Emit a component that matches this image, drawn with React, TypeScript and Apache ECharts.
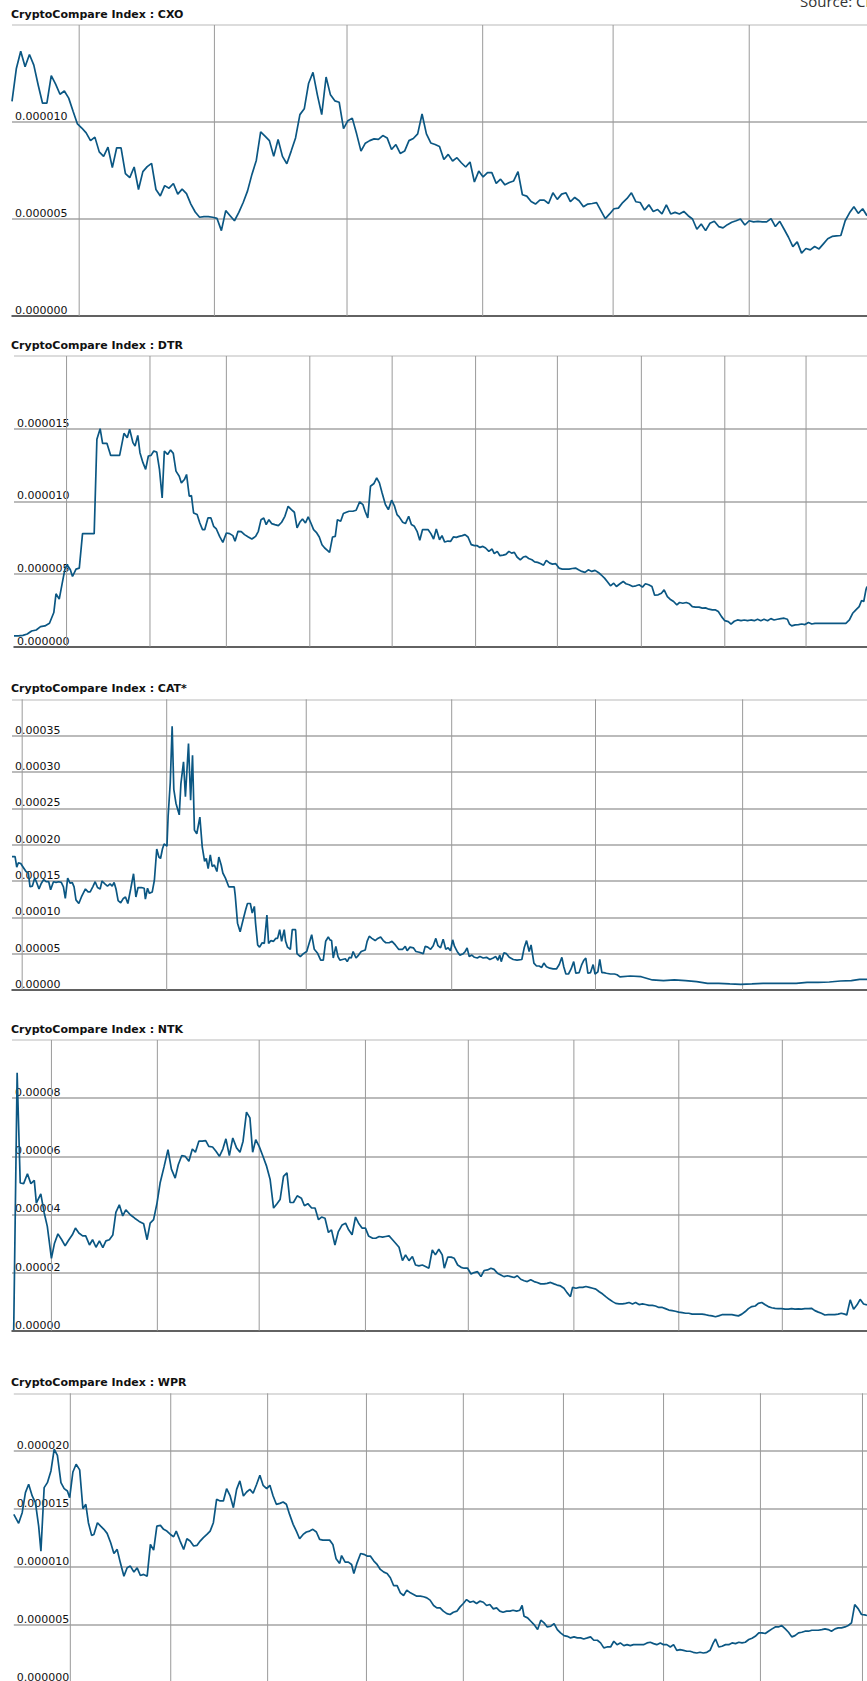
import React, { useEffect, useRef } from 'react';
import * as echarts from 'echarts';

// ---------- DATA ----------
// CXO: one value per day, in units of 1e-6
const cxoValues = [
  11.06, 12.76, 13.65, 12.85, 13.48, 12.93, 11.91, 10.97, 10.97, 12.39,
  11.95, 11.43, 11.6, 11.23, 10.55, 9.9, 9.69, 9.44, 9.04, 9.22,
  8.46, 8.23, 8.7, 7.65, 8.67, 8.67, 7.34, 7.13, 7.68, 6.52,
  7.44, 7.7, 7.87, 6.52, 6.19, 6.72, 6.59, 6.83, 6.28, 6.54,
  6.31, 5.77, 5.36, 5.09, 5.12, 5.12, 5.09, 5.03, 4.4, 5.43,
  5.17, 4.91, 5.34, 5.85, 6.45, 7.3, 8.02, 9.49, 9.27, 9.04,
  8.23, 9.1, 8.23, 7.85, 8.5, 9.18, 10.38, 10.68, 12.0, 12.56,
  11.4, 10.38, 12.32, 11.4, 11.09, 11.02, 9.66, 10.07, 10.2, 9.39,
  8.5, 8.91, 9.04, 9.13, 9.1, 9.3, 9.18, 8.58, 8.84, 8.38,
  8.5, 9.04, 9.15, 9.39, 10.41, 9.39, 8.92, 8.84, 8.74, 8.07,
  8.33, 7.99, 8.16, 7.9, 7.68, 7.94, 6.91, 7.47, 7.17, 7.39,
  7.39, 6.84, 7.05, 6.76, 6.88, 6.96, 7.44, 6.25, 6.18, 5.9,
  5.77, 5.97, 5.97, 5.8, 6.35, 6.01, 6.28, 6.35, 5.89, 6.11,
  5.94, 5.63, 5.77, 5.8, 5.84, 5.43, 5.02, 5.26, 5.53, 5.56,
  5.85, 6.06, 6.35, 5.89, 5.85, 5.46, 5.73, 5.39, 5.49, 5.26,
  5.73, 5.26, 5.34, 5.26, 5.39, 5.17, 5.0, 4.47, 4.74, 4.4,
  4.78, 4.88, 4.61, 4.54, 4.71, 4.83, 4.91, 5.0, 4.69, 4.91,
  4.85, 4.88, 4.85, 4.85, 5.02, 4.61, 4.88, 4.47, 4.06, 3.58,
  3.82, 3.24, 3.48, 3.41, 3.58, 3.46, 3.72, 3.98, 4.1, 4.13,
  4.15, 4.91, 5.32, 5.63, 5.29, 5.53, 5.17,
];
const cxoMonthDays = [15.4, 46.4, 76.8, 107.9, 137.8, 169.0];

// DTR: [day, value in 1e-6]
const dtrPoints = [
  [0, 0.74], [1.6, 0.74], [3.3, 0.78], [4.9, 0.87], [6.5, 1.08], [8.2, 1.15], [9.8, 1.38], [11.4, 1.43], [13.1, 1.61], [14.7, 2.35],
  [15.5, 3.64], [16.7, 3.27], [18.0, 4.56], [18.8, 5.34], [19.6, 5.64], [20.8, 5.29], [21.6, 4.83], [22.9, 5.34], [24.1, 5.41], [25.3, 7.78],
  [29.6, 7.78], [30.6, 14.27], [31.8, 15.0], [32.7, 13.99], [34.3, 13.99], [35.7, 13.16], [39.0, 13.16], [40.6, 14.68], [41.8, 14.38], [42.7, 14.96],
  [43.9, 14.04], [44.7, 13.81], [45.7, 14.54], [46.5, 13.35], [47.6, 12.66], [48.6, 12.2], [49.6, 13.12], [50.6, 13.16], [51.6, 13.46], [52.7, 13.39],
  [53.7, 12.2], [54.7, 10.24], [55.5, 13.46], [56.7, 13.23], [57.8, 13.53], [58.8, 13.3], [59.8, 12.08], [61.0, 11.73], [61.8, 11.27], [62.9, 11.5],
  [63.7, 11.85], [64.7, 10.35], [65.5, 10.4], [66.3, 9.2], [67.6, 9.09], [68.6, 8.51], [69.6, 8.05], [70.4, 8.05], [71.6, 8.86], [72.7, 8.86],
  [73.7, 8.28], [74.7, 8.1], [75.9, 7.59], [77.1, 7.18], [78.4, 7.82], [79.6, 7.78], [80.8, 7.64], [81.6, 7.25], [82.7, 7.94], [83.9, 7.92],
  [85.1, 7.71], [86.5, 7.55], [87.8, 7.41], [89.2, 7.59], [90.2, 7.94], [91.2, 8.74], [92.2, 8.86], [93.1, 8.4], [94.1, 8.74], [95.1, 8.47],
  [96.3, 8.4], [97.6, 8.33], [98.8, 8.56], [100.0, 8.97], [101.2, 9.66], [102.4, 9.43], [103.5, 9.25], [104.5, 8.17], [105.5, 8.56], [106.5, 8.79],
  [107.6, 8.51], [108.6, 8.93], [109.6, 8.51], [110.6, 8.05], [111.6, 7.87], [112.7, 7.55], [113.7, 7.02], [114.7, 6.79], [115.7, 6.63], [116.5, 6.49],
  [117.6, 7.55], [118.6, 7.59], [119.4, 8.74], [120.6, 8.63], [121.6, 9.16], [122.7, 9.25], [123.7, 9.32], [125.1, 9.32], [126.3, 9.39], [127.6, 9.96],
  [128.8, 9.78], [129.6, 9.32], [130.6, 8.86], [131.6, 11.04], [132.9, 11.23], [133.9, 11.62], [134.9, 11.27], [135.9, 10.58], [137.1, 9.78], [138.2, 9.43],
  [139.4, 10.08], [140.4, 9.71], [141.4, 9.09], [142.2, 8.93], [143.5, 8.56], [144.5, 8.47], [145.7, 8.97], [146.7, 8.4], [147.8, 8.28], [148.8, 7.94],
  [149.8, 7.32], [150.8, 8.05], [152.9, 8.05], [153.9, 7.78], [154.9, 7.41], [155.9, 8.1], [157.1, 7.36], [158.0, 7.64], [159.0, 7.2], [160.2, 7.27],
  [161.2, 7.25], [162.2, 7.55], [163.3, 7.52], [164.3, 7.59], [165.5, 7.64], [166.5, 7.71], [167.6, 7.55], [168.8, 7.02], [170.0, 6.95], [171.0, 6.95],
  [172.0, 6.83], [173.1, 6.9], [174.1, 6.79], [175.3, 6.56], [176.5, 6.72], [177.3, 6.4], [178.4, 6.56], [179.4, 6.26], [180.6, 6.3], [181.6, 6.35],
  [182.7, 6.56], [183.7, 6.44], [184.7, 6.49], [185.7, 6.17], [186.9, 5.98], [188.0, 6.17], [189.0, 6.21], [190.0, 6.07], [191.2, 5.98], [192.2, 5.84],
  [193.3, 5.8], [194.5, 5.71], [195.5, 5.61], [196.5, 5.94], [197.8, 5.75], [198.8, 5.68], [200.0, 5.71], [201.2, 5.41], [202.4, 5.34], [204.9, 5.34],
  [206.1, 5.38], [207.3, 5.41], [208.4, 5.29], [209.6, 5.18], [210.8, 5.11], [212.0, 5.29], [213.3, 5.18], [214.5, 5.25], [215.7, 5.11], [216.7, 4.95],
  [218.0, 4.72], [219.0, 4.49], [220.2, 4.19], [221.4, 4.37], [222.4, 4.14], [223.7, 4.33], [224.9, 4.49], [225.9, 4.33], [227.1, 4.26], [228.4, 4.14],
  [229.6, 4.19], [230.8, 4.26], [232.0, 4.1], [233.1, 4.33], [234.3, 4.26], [235.5, 4.14], [236.5, 3.54], [237.8, 3.57], [239.0, 3.68], [240.0, 3.91],
  [241.2, 3.45], [242.2, 3.27], [243.5, 3.11], [244.7, 2.88], [245.7, 3.04], [246.9, 2.99], [248.2, 3.04], [249.4, 2.95], [250.4, 2.76], [251.6, 2.72],
  [252.9, 2.72], [254.1, 2.65], [255.3, 2.67], [256.5, 2.58], [257.8, 2.53], [259.0, 2.53], [260.0, 2.42], [261.2, 2.07], [262.4, 1.79], [263.7, 1.73],
  [264.7, 1.56], [265.9, 1.75], [267.1, 1.84], [268.4, 1.79], [269.6, 1.84], [270.8, 1.79], [272.0, 1.84], [273.3, 1.79], [274.5, 1.89], [275.7, 1.79],
  [276.9, 1.89], [278.2, 1.79], [279.4, 1.93], [280.6, 1.84], [281.8, 1.89], [283.1, 1.93], [284.3, 1.96], [285.5, 1.89], [286.3, 1.56], [287.1, 1.43],
  [288.4, 1.5], [289.6, 1.52], [290.8, 1.56], [292.0, 1.52], [293.3, 1.66], [294.5, 1.56], [295.7, 1.61], [307.1, 1.61], [308.4, 1.84], [309.6, 2.3],
  [310.8, 2.53], [312.0, 2.76], [312.9, 3.18], [313.7, 3.11], [314.5, 3.91], [314.9, 4.14],
];
const dtrMonthDays = [19.4, 50.2, 78.4, 109.2, 139.6, 170.4, 200.6, 231.6, 262.4, 292.4];

// CAT: [day, value in 1e-5]
const catPoints = [
  [0, 18.35], [1.3, 18.35], [2.0, 16.9], [2.7, 17.5], [3.7, 17.4], [4.5, 17.0], [5.9, 16.3], [6.9, 16.1], [7.6, 14.2], [8.6, 14.3],
  [9.6, 15.4], [10.4, 14.8], [11.4, 13.9], [12.4, 14.7], [13.4, 15.2], [14.4, 14.9], [15.5, 14.9], [16.3, 13.8], [17.5, 14.9], [18.6, 14.8],
  [19.7, 14.9], [20.8, 14.8], [21.7, 14.2], [22.5, 12.6], [23.5, 15.4], [24.5, 14.7], [25.4, 14.8], [26.2, 14.2], [27.0, 12.4], [28.2, 11.9],
  [29.3, 12.8], [31.0, 13.9], [32.1, 13.5], [33.0, 13.5], [34.1, 14.2], [35.1, 14.9], [36.1, 14.1], [37.2, 13.9], [38.0, 15.0], [39.2, 14.6],
  [40.3, 14.3], [41.4, 14.6], [42.3, 14.3], [43.1, 14.8], [43.9, 13.9], [44.8, 12.3], [45.9, 12.0], [47.0, 12.6], [47.9, 12.8], [48.9, 11.9],
  [50.1, 13.9], [51.3, 16.0], [52.3, 12.8], [53.2, 14.1], [54.6, 14.1], [55.8, 14.0], [56.3, 12.5], [57.2, 14.0], [58.0, 13.3], [59.2, 13.5],
  [60.1, 15.1], [61.1, 19.4], [62.0, 18.3], [62.7, 18.1], [63.5, 19.4], [64.2, 20.1], [65.4, 19.8], [65.9, 23.9], [66.8, 28.5], [67.6, 36.3],
  [68.3, 27.6], [69.2, 25.7], [70.6, 24.1], [71.3, 28.4], [72.4, 31.4], [73.2, 26.6], [74.5, 33.9], [75.4, 26.1], [76.2, 32.3], [77.0, 22.0],
  [78.0, 21.5], [79.3, 23.8], [80.3, 19.7], [81.3, 17.7], [82.0, 18.1], [82.8, 16.7], [83.7, 18.6], [84.5, 17.0], [85.4, 17.2], [86.5, 16.3],
  [87.3, 18.3], [88.3, 17.2], [89.0, 16.1], [90.1, 15.4], [91.5, 14.2], [92.7, 14.2], [93.8, 14.2], [94.2, 13.1], [95.2, 9.2], [96.3, 8.0],
  [97.5, 9.6], [98.6, 11.0], [99.4, 11.9], [100.6, 11.9], [101.4, 10.6], [102.3, 11.5], [102.8, 9.2], [103.7, 6.2], [104.5, 5.9], [105.6, 6.5],
  [106.5, 6.4], [107.6, 10.3], [108.3, 6.4], [109.3, 6.8], [110.4, 6.7], [111.3, 7.1], [112.1, 7.1], [113.0, 8.3], [113.8, 6.7], [114.9, 8.3],
  [115.5, 6.7], [116.3, 5.9], [117.5, 5.6], [118.3, 8.3], [119.7, 8.3], [120.3, 5.0], [121.7, 4.6], [123.0, 5.0], [124.4, 5.3], [126.5, 7.6],
  [127.6, 5.6], [128.9, 5.1], [130.3, 4.1], [131.4, 4.1], [132.4, 6.7], [133.5, 7.3], [134.2, 6.9], [134.9, 6.8], [135.6, 4.4], [136.7, 6.0],
  [137.6, 4.6], [138.4, 4.1], [139.5, 4.2], [140.7, 4.3], [141.5, 3.9], [142.4, 4.5], [143.2, 4.4], [144.0, 5.3], [145.2, 4.4], [146.3, 4.8],
  [147.4, 5.3], [149.1, 5.5], [149.9, 6.7], [150.8, 7.4], [151.9, 7.1], [153.3, 6.8], [154.4, 7.1], [155.6, 7.3], [156.7, 6.8], [157.8, 6.5],
  [159.2, 6.5], [160.4, 6.7], [161.8, 6.2], [163.2, 5.6], [164.9, 5.6], [166.0, 6.0], [166.8, 5.4], [168.0, 5.9], [169.4, 5.8], [170.5, 5.3],
  [171.9, 5.2], [173.6, 5.0], [174.4, 6.0], [175.5, 5.9], [176.7, 5.6], [177.8, 6.1], [178.9, 7.1], [179.8, 6.1], [180.9, 5.8], [182.0, 7.0],
  [183.1, 5.6], [184.1, 5.8], [185.1, 5.4], [186.0, 6.9], [186.8, 6.0], [187.9, 5.3], [189.0, 4.8], [190.5, 5.0], [191.3, 5.3], [192.1, 5.8],
  [193.0, 4.6], [194.1, 4.8], [195.2, 4.5], [196.4, 4.4], [197.5, 4.6], [198.9, 4.4], [200.3, 4.5], [201.7, 4.2], [203.1, 4.4], [204.2, 4.6],
  [205.1, 4.1], [205.9, 4.8], [206.5, 3.9], [207.6, 5.1], [208.7, 5.0], [209.9, 4.5], [211.6, 4.2], [213.2, 4.1], [215.2, 4.2], [216.2, 5.8],
  [217.2, 6.8], [218.3, 5.3], [219.1, 6.2], [220.3, 3.7], [221.4, 3.3], [222.5, 3.3], [223.6, 3.1], [224.5, 3.7], [225.6, 3.2], [227.0, 3.0],
  [228.4, 2.9], [229.8, 2.9], [231.0, 3.5], [232.1, 4.5], [232.9, 3.2], [233.8, 2.2], [234.9, 2.2], [236.0, 2.9], [237.1, 3.9], [238.0, 2.3],
  [239.4, 2.4], [240.5, 3.5], [241.4, 4.1], [242.2, 4.4], [243.1, 2.3], [244.2, 2.4], [245.3, 3.5], [246.1, 2.2], [247.3, 2.5], [248.1, 4.2],
  [249.0, 2.4], [249.8, 2.4], [250.9, 2.3], [252.6, 2.2], [254.3, 2.2], [255.4, 2.1], [256.6, 1.8], [261.0, 1.93], [265.6, 1.83], [270.3, 1.38],
  [275.0, 1.28], [279.6, 1.38], [284.3, 1.28], [289.0, 1.15], [293.6, 0.92], [298.3, 0.92], [303.0, 0.83], [307.6, 0.78], [312.3, 0.83], [317.0, 0.92],
  [321.7, 0.92], [326.3, 0.92], [331.0, 0.92], [335.6, 1.06], [340.3, 1.06], [345.0, 1.1], [349.7, 1.24], [354.3, 1.28], [357.8, 1.47], [360.9, 1.47],
];
const catMonthDays = [4.3, 65.3, 124.2, 185.6, 246.3, 308.4];

// NTK: [day, value in 1e-5]
const ntkPoints = [
  [0.5, 0.02], [1.5, 8.87], [2.4, 5.08], [3.4, 5.06], [4.5, 5.4], [5.5, 5.06], [6.5, 5.17], [7.1, 4.39], [8.4, 4.71], [9.4, 4.05],
  [10.3, 3.59], [11.5, 2.49], [12.4, 3.01], [13.4, 3.33], [14.5, 3.13], [15.5, 2.92], [16.6, 3.13], [17.6, 3.3], [18.5, 3.53], [19.5, 3.36],
  [20.6, 3.26], [21.5, 3.26], [22.6, 2.95], [23.5, 3.13], [24.5, 2.87], [25.5, 3.09], [26.5, 2.86], [27.4, 3.09], [28.4, 3.13], [29.4, 3.29],
  [30.3, 4.07], [31.3, 4.33], [32.3, 3.95], [33.2, 4.16], [34.5, 3.99], [35.8, 3.87], [37.1, 3.76], [38.4, 3.68], [39.4, 3.13], [40.3, 3.7],
  [41.3, 3.82], [42.3, 4.39], [43.2, 5.08], [44.4, 5.66], [45.5, 6.23], [46.5, 5.56], [47.6, 5.25], [48.5, 5.71], [49.5, 6.02], [50.5, 6.0],
  [51.6, 5.83], [52.6, 6.25], [53.5, 6.14], [54.5, 6.52], [55.5, 6.52], [56.5, 6.54], [57.4, 6.34], [58.5, 6.32], [59.5, 6.17], [60.5, 6.0],
  [61.5, 6.25], [62.4, 6.6], [63.4, 6.02], [64.4, 6.63], [65.5, 6.29], [66.5, 6.14], [67.4, 6.52], [68.4, 7.52], [69.4, 7.32], [70.2, 6.14],
  [71.1, 6.57], [72.1, 6.34], [73.2, 6.0], [74.2, 5.68], [75.3, 5.2], [76.3, 4.22], [77.3, 4.37], [78.2, 4.51], [79.2, 5.31], [80.2, 5.43],
  [81.1, 4.41], [82.1, 4.41], [83.2, 4.64], [84.4, 4.56], [85.3, 4.3], [86.3, 4.37], [87.4, 4.22], [88.4, 4.22], [89.4, 3.82], [90.3, 3.91],
  [91.3, 3.87], [92.3, 3.38], [93.2, 3.47], [94.2, 2.95], [95.2, 3.41], [96.3, 3.64], [97.3, 3.7], [98.2, 3.47], [99.2, 3.3], [100.2, 3.91],
  [101.1, 3.7], [102.1, 3.53], [103.1, 3.53], [104.0, 3.26], [105.2, 3.18], [106.1, 3.18], [107.1, 3.24], [108.1, 3.22], [109.0, 3.24], [110.0, 3.26],
  [111.0, 3.13], [111.9, 3.01], [112.9, 2.87], [113.9, 2.41], [114.8, 2.61], [115.8, 2.41], [116.8, 2.55], [117.7, 2.26], [118.7, 2.23], [119.7, 2.26],
  [120.6, 2.21], [121.6, 2.15], [122.6, 2.78], [123.5, 2.61], [124.5, 2.8], [125.5, 2.61], [126.1, 2.15], [127.1, 2.53], [128.1, 2.53], [129.0, 2.49],
  [130.0, 2.26], [131.0, 2.18], [131.9, 2.15], [132.9, 2.15], [133.9, 1.95], [134.8, 2.0], [135.8, 2.03], [136.8, 1.86], [137.7, 2.07], [138.7, 2.09],
  [139.7, 2.15], [140.6, 2.11], [141.6, 1.98], [142.6, 1.92], [143.5, 1.86], [144.5, 1.89], [145.5, 1.86], [146.5, 1.83], [147.4, 1.89], [148.4, 1.77],
  [149.4, 1.72], [150.3, 1.69], [151.3, 1.75], [152.3, 1.69], [153.2, 1.66], [154.2, 1.61], [155.2, 1.61], [156.1, 1.63], [157.1, 1.66], [158.1, 1.61],
  [159.0, 1.57], [160.0, 1.54], [161.0, 1.46], [161.9, 1.31], [162.9, 1.17], [163.5, 1.49], [164.5, 1.46], [165.5, 1.49], [166.5, 1.49], [167.4, 1.52],
  [168.4, 1.49], [169.4, 1.46], [170.3, 1.43], [171.3, 1.34], [172.3, 1.26], [173.2, 1.17], [174.2, 1.08], [175.2, 1.0], [176.1, 0.94], [177.1, 0.92],
  [178.1, 0.92], [179.0, 0.94], [180.0, 0.97], [181.0, 0.92], [181.9, 0.97], [182.9, 0.9], [183.9, 0.92], [184.8, 0.9], [185.8, 0.87], [186.8, 0.87],
  [187.7, 0.85], [188.7, 0.8], [189.7, 0.8], [190.6, 0.76], [191.6, 0.71], [192.6, 0.69], [193.5, 0.67], [194.5, 0.64], [195.5, 0.62], [196.5, 0.6],
  [197.4, 0.6], [198.4, 0.57], [199.4, 0.57], [200.3, 0.57], [201.3, 0.57], [202.3, 0.55], [203.2, 0.53], [204.2, 0.51], [205.2, 0.48], [206.1, 0.51],
  [207.1, 0.55], [208.1, 0.55], [209.0, 0.55], [210.0, 0.55], [211.0, 0.53], [211.9, 0.51], [212.9, 0.57], [213.9, 0.66], [214.8, 0.76], [215.8, 0.83],
  [216.8, 0.85], [217.7, 0.94], [218.7, 0.97], [219.7, 0.89], [220.6, 0.83], [221.6, 0.79], [222.6, 0.77], [223.5, 0.76], [224.5, 0.76], [225.5, 0.74],
  [226.5, 0.74], [227.4, 0.76], [228.4, 0.74], [229.4, 0.75], [230.3, 0.74], [231.3, 0.76], [232.3, 0.76], [233.2, 0.77], [234.2, 0.69], [235.2, 0.64],
  [236.1, 0.6], [237.1, 0.54], [238.1, 0.55], [239.0, 0.55], [240.0, 0.55], [241.0, 0.57], [241.9, 0.6], [242.9, 0.57], [243.5, 0.54], [244.5, 1.06],
  [245.5, 0.74], [246.5, 0.89], [247.4, 1.08], [248.4, 0.92], [249.4, 0.89],
];
const ntkMonthDays = [11.5, 42.4, 72.1, 103.1, 133.1, 163.9, 194.5, 224.7];

// WPR: [day, value in 1e-6]
const wprPoints = [
  [0, 14.55], [1.5, 13.78], [2.6, 14.7], [3.6, 16.43], [4.6, 17.15], [5.7, 16.14], [6.7, 15.56], [7.7, 13.54], [8.4, 11.38], [9.4, 16.86],
  [10.4, 17.29], [11.5, 18.3], [12.5, 20.17], [13.5, 19.65], [14.6, 17.29], [15.6, 16.77], [16.6, 16.57], [17.3, 15.99], [18.3, 18.21], [19.3, 18.88],
  [20.4, 18.39], [21.4, 15.04], [22.3, 15.42], [23.1, 13.83], [24.1, 12.74], [24.8, 12.82], [25.9, 13.83], [26.9, 13.54], [27.9, 13.26], [28.9, 12.91],
  [30.0, 12.1], [31.0, 11.18], [32.0, 11.53], [33.0, 10.37], [34.1, 9.22], [35.1, 9.94], [36.1, 10.09], [37.2, 9.57], [38.2, 9.94], [39.2, 9.28],
  [40.2, 9.37], [41.3, 9.22], [42.3, 11.96], [43.3, 11.47], [44.3, 13.54], [45.4, 13.6], [46.4, 13.26], [47.4, 13.11], [48.5, 12.82], [49.5, 12.62],
  [50.3, 13.11], [51.5, 12.25], [52.6, 11.53], [53.6, 12.45], [54.6, 12.25], [55.7, 11.82], [56.7, 11.87], [57.7, 12.25], [58.7, 12.54], [59.8, 12.82],
  [60.8, 13.11], [61.8, 13.83], [62.8, 15.85], [63.9, 15.71], [64.9, 15.71], [65.9, 16.77], [67.0, 16.14], [68.0, 15.13], [69.0, 16.71], [70.0, 17.44],
  [71.1, 16.14], [72.1, 16.48], [73.1, 16.71], [74.1, 16.37], [75.2, 17.15], [76.2, 17.93], [77.2, 17.06], [78.3, 16.77], [79.3, 17.06], [80.3, 16.14],
  [81.3, 15.42], [82.4, 15.5], [83.4, 15.62], [84.4, 15.42], [85.4, 14.55], [86.5, 13.69], [87.5, 13.11], [88.5, 12.45], [89.6, 12.82], [90.6, 13.03],
  [91.6, 13.11], [92.6, 13.26], [93.7, 13.03], [94.7, 12.39], [95.7, 12.33], [96.7, 12.33], [97.8, 12.33], [98.8, 11.96], [99.8, 10.72], [100.9, 10.32],
  [101.5, 11.0], [102.6, 10.43], [103.6, 10.43], [104.6, 10.23], [105.3, 9.45], [106.3, 10.37], [107.4, 11.18], [108.4, 11.1], [109.4, 10.95], [110.4, 10.95],
  [111.5, 10.52], [112.5, 10.23], [113.5, 9.8], [114.6, 9.57], [115.6, 9.45], [116.6, 9.08], [117.6, 8.41], [118.7, 8.41], [119.7, 7.78], [120.7, 7.55],
  [121.7, 8.01], [122.8, 7.78], [123.8, 7.64], [124.8, 7.49], [125.9, 7.49], [126.9, 7.44], [127.9, 7.35], [128.9, 7.15], [130.0, 6.69], [131.0, 6.48],
  [132.0, 6.48], [133.0, 6.2], [134.1, 5.99], [135.1, 5.91], [136.1, 6.11], [137.2, 6.2], [138.2, 6.57], [139.2, 6.86], [140.2, 7.2], [141.3, 6.97],
  [142.3, 7.06], [143.3, 6.86], [144.3, 7.06], [145.4, 6.97], [146.4, 6.69], [147.4, 6.77], [148.5, 6.4], [149.5, 6.48], [150.5, 6.2], [151.5, 6.11],
  [152.6, 6.2], [153.6, 6.2], [154.6, 6.28], [155.7, 6.2], [156.7, 6.28], [157.4, 6.69], [158.0, 5.76], [159.1, 5.62], [160.1, 5.33], [161.1, 5.04],
  [162.2, 4.61], [163.2, 5.42], [164.2, 5.19], [165.2, 4.84], [166.3, 4.9], [167.3, 5.13], [168.3, 4.61], [169.3, 4.32], [170.4, 4.09], [171.4, 4.03],
  [172.4, 3.89], [173.5, 3.98], [174.5, 3.89], [175.5, 3.89], [176.5, 3.8], [177.6, 3.89], [178.6, 3.98], [179.6, 3.69], [180.7, 3.69], [181.7, 3.46],
  [182.7, 3.03], [183.7, 3.11], [184.8, 3.11], [185.8, 3.6], [186.8, 3.31], [187.8, 3.46], [188.9, 3.23], [189.9, 3.31], [190.9, 3.23], [191.9, 3.31],
  [193.0, 3.31], [194.0, 3.31], [195.0, 3.31], [196.1, 3.46], [197.1, 3.52], [198.1, 3.4], [199.1, 3.31], [200.2, 3.46], [201.2, 3.31], [202.2, 3.31],
  [203.3, 3.11], [204.3, 3.31], [205.3, 2.82], [206.3, 2.88], [207.4, 2.82], [208.4, 2.74], [209.4, 2.74], [210.4, 2.65], [211.5, 2.59], [212.5, 2.65],
  [213.5, 2.59], [214.6, 2.65], [215.6, 2.82], [216.6, 3.46], [217.3, 3.8], [218.3, 3.11], [219.3, 3.17], [220.4, 3.31], [221.4, 3.31], [222.4, 3.46],
  [223.5, 3.4], [224.5, 3.52], [225.5, 3.46], [226.5, 3.52], [227.6, 3.75], [228.6, 3.86], [229.6, 4.03], [230.7, 4.32], [231.7, 4.32], [232.7, 4.27],
  [233.7, 4.47], [234.8, 4.67], [235.8, 4.84], [236.8, 4.84], [237.8, 4.96], [238.9, 4.67], [239.9, 4.38], [240.9, 3.98], [241.9, 4.09], [243.0, 4.32],
  [244.0, 4.38], [245.0, 4.47], [246.1, 4.47], [247.1, 4.55], [248.1, 4.55], [249.1, 4.55], [250.2, 4.61], [251.2, 4.67], [252.2, 4.61], [253.2, 4.47],
  [254.3, 4.67], [255.3, 4.76], [256.3, 4.76], [257.4, 4.84], [258.4, 4.96], [259.4, 5.19], [260.4, 6.77], [261.5, 6.4], [262.5, 5.91], [263.5, 5.88],
  [264.2, 5.82],
];
const wprMonthDays = [17.5, 48.6, 78.6, 109.2, 139.2, 170.2, 201.2, 231.2, 262.8];

const titles = [
  'CryptoCompare Index : CXO',
  'CryptoCompare Index : DTR',
  'CryptoCompare Index : CAT*',
  'CryptoCompare Index : NTK',
  'CryptoCompare Index : WPR',
];
const sourceText = 'Source: CryptoCompare';

// ---------- LAYOUT / STYLE ----------
const LINE_COLOR = '#0b5783';
const FONT = '"DejaVu Sans", Verdana, sans-serif';

type Panel = {
  title: string;
  titleY: number;
  left: number;
  top: number;
  height: number;
  yMax: number;
  yStep: number;
  decimals: number;
  xMax: number;
  data: number[][];
  months: number[];
};

const panels: Panel[] = [
  {
    title: titles[0], titleY: 14, left: 12, top: 25, height: 291,
    yMax: 15e-6, yStep: 5e-6, decimals: 6, xMax: cxoValues.length - 1,
    data: cxoValues.map((v, i) => [i, v * 1e-6]), months: cxoMonthDays,
  },
  {
    title: titles[1], titleY: 345, left: 14, top: 356, height: 290.7,
    yMax: 20e-6, yStep: 5e-6, decimals: 6, xMax: 314.9,
    data: dtrPoints.map(([d, v]) => [d, v * 1e-6]), months: dtrMonthDays,
  },
  {
    title: titles[2], titleY: 688, left: 12, top: 699.3, height: 290.7,
    yMax: 0.0004, yStep: 0.00005, decimals: 5, xMax: 360.9,
    data: catPoints.map(([d, v]) => [d, v * 1e-5]), months: catMonthDays,
  },
  {
    title: titles[3], titleY: 1029.3, left: 12, top: 1040, height: 290.7,
    yMax: 0.0001, yStep: 0.00002, decimals: 5, xMax: 249.4,
    data: ntkPoints.map(([d, v]) => [d, v * 1e-5]), months: ntkMonthDays,
  },
  {
    title: titles[4], titleY: 1382, left: 13.8, top: 1393.3, height: 289.7,
    yMax: 25e-6, yStep: 5e-6, decimals: 6, xMax: 264.2,
    data: wprPoints.map(([d, v]) => [d, v * 1e-6]), months: wprMonthDays,
  },
];

const WIDTH = 867;
const HEIGHT = 1681;

function buildOption() {
  const grid: any[] = [];
  const xAxis: any[] = [];
  const yAxis: any[] = [];
  const series: any[] = [];
  const graphic: any[] = [];

  panels.forEach((p, i) => {
    grid.push({
      left: p.left,
      top: p.top,
      width: WIDTH - p.left,
      height: p.height,
      containLabel: false,
      outerBoundsMode: 'none',
    });
    xAxis.push({
      gridIndex: i,
      type: 'value',
      min: 0,
      max: p.xMax,
      axisLine: { show: true, onZero: false, lineStyle: { color: '#444', width: 1.6 } },
      axisTick: { show: false },
      axisLabel: { show: false },
      splitLine: { show: false },
    });
    const tickCount = Math.round(p.yMax / p.yStep) + 1;
    const splitColors: string[] = [];
    for (let k = 0; k < tickCount; k++) splitColors.push(k === tickCount - 1 ? '#d0d0d0' : '#a5a5a5');
    yAxis.push({
      gridIndex: i,
      type: 'value',
      min: 0,
      max: p.yMax,
      interval: p.yStep,
      axisLine: { show: false },
      axisTick: { show: false },
      axisLabel: {
        inside: true,
        margin: 3,
        verticalAlign: 'bottom',
        showMaxLabel: false,
        fontFamily: FONT,
        fontSize: 11,
        color: '#111',
        formatter: (v: number) => v.toFixed(p.decimals),
      },
      splitLine: { show: true, lineStyle: { color: splitColors, width: 1.5 } },
    });
    series.push({
      type: 'custom',
      xAxisIndex: i,
      yAxisIndex: i,
      z: 1,
      silent: true,
      data: p.months.map((d) => [d, 0]),
      encode: { x: 0, y: 1 },
      renderItem: (_params: any, api: any) => {
        const x = api.value(0);
        const a = api.coord([x, p.yMax]);
        const b = api.coord([x, 0]);
        return {
          type: 'line',
          shape: { x1: a[0], y1: a[1], x2: b[0], y2: b[1] },
          style: { stroke: '#9a9a9a', lineWidth: 1 },
        };
      },
    });
    series.push({
      type: 'line',
      xAxisIndex: i,
      yAxisIndex: i,
      z: 3,
      data: p.data,
      showSymbol: false,
      symbol: 'none',
      lineStyle: { color: LINE_COLOR, width: 1.7 },
      silent: true,
    });
    graphic.push({
      type: 'text',
      x: 11,
      y: p.titleY,
      style: {
        text: p.title,
        font: `bold 11px ${FONT}`,
        fill: '#111',
        verticalAlign: 'middle',
      },
    });
  });

  graphic.push({
    type: 'text',
    x: 800,
    y: 8,
    style: {
      text: sourceText,
      font: '15px "Open Sans", sans-serif',
      fill: '#333',
      verticalAlign: 'bottom',
    },
  });

  return {
    animation: false,
    backgroundColor: '#ffffff',
    grid,
    xAxis,
    yAxis,
    series,
    graphic,
  };
}

export default function App() {
  const ref = useRef<HTMLDivElement>(null);
  useEffect(() => {
    if (!ref.current) return;
    const chart = echarts.init(ref.current, null, { renderer: 'svg', width: WIDTH, height: HEIGHT });
    chart.setOption(buildOption() as any);
    return () => chart.dispose();
  }, []);
  return (
    <div
      ref={ref}
      style={{
        position: 'absolute',
        left: 0,
        top: 0,
        width: WIDTH,
        height: HEIGHT,
        overflow: 'hidden',
        background: '#fff',
      }}
    />
  );
}
